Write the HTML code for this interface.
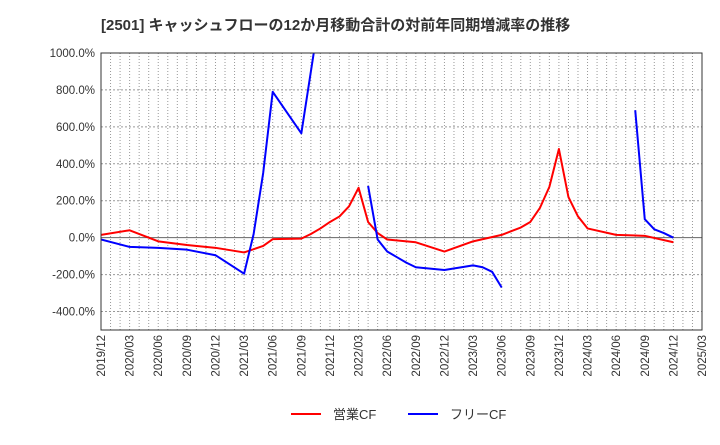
<!DOCTYPE html>
<html><head><meta charset="utf-8"><style>
body{margin:0;background:#fff;}
svg text{font-family:"Liberation Sans","Noto Sans CJK JP",sans-serif;}
</style></head><body>
<svg id="c" width="720" height="440" xmlns="http://www.w3.org/2000/svg">
<text x="101" y="30" font-size="15" font-weight="bold" fill="#333">[2501]  キャッシュフローの12か月移動合計の対前年同期増減率の推移</text>
<g id="grid"></g><g id="series"></g><g id="axes"></g>
<g>
<line x1="291" y1="414" x2="321" y2="414" stroke="#f00" stroke-width="2"/>
<text x="333" y="419" font-size="13" fill="#333">営業CF</text>
<line x1="408" y1="414" x2="438" y2="414" stroke="#00f" stroke-width="2"/>
<text x="450" y="419" font-size="13" fill="#333">フリーCF</text>
</g>
</svg>
<script>
const xTickLabels=["2019/12","2020/03","2020/06","2020/09","2020/12","2021/03","2021/06","2021/09","2021/12","2022/03","2022/06","2022/09","2022/12","2023/03","2023/06","2023/09","2023/12","2024/03","2024/06","2024/09","2024/12","2025/03"];
const yTicks=[-400,-200,0,200,400,600,800,1000];
// month index from 2019/12
const opMonths=[0,3,6,9,12,15,17,18,21,22,23,24,25,26,27,28,29,30,33,36,39,42,43,44,45,46,47,48,49,50,51,54,57,60];
const opValues=[15,40,-20,-40,-55,-80,-45,-8,-5,20,50,85,115,170,270,85,25,-10,-25,-75,-20,15,35,55,85,160,275,480,220,115,50,15,10,-25];
const fcfSegments=[
 {months:[0,3,6,9,12,15,16,17,18,21,22.3],values:[-10,-50,-55,-65,-95,-195,20,350,790,565,1000]},
 {months:[28,29,30,31,32,33,36,39,40,41,42],values:[280,-10,-75,-105,-135,-160,-175,-150,-160,-185,-270]},
 {months:[56,57,58,59,60],values:[690,100,45,25,0]}
];
const X0=101,X1=702,Y0=53,Y1=330,NM=63,YMIN=-500,YMAX=1000;
const xs=m=>X0+(X1-X0)*m/NM;
const ys=v=>Y1-(Y1-Y0)*(v-YMIN)/(YMAX-YMIN);
const NS="http://www.w3.org/2000/svg";
function mk(tag,attrs,parent){const e=document.createElementNS(NS,tag);for(const k in attrs)e.setAttribute(k,attrs[k]);parent.appendChild(e);return e;}
const grid=document.getElementById('grid'),axes=document.getElementById('axes'),ser=document.getElementById('series');
for(let m=1;m<NM;m++){
 const l=mk('line',{x1:xs(m),x2:xs(m),y1:Y0,y2:Y1,stroke:'#999','stroke-width':1,'stroke-dasharray':'1,2'},grid);
 
 
}
yTicks.forEach(v=>{
 const y=ys(v);
 const l=mk('line',{x1:X0,x2:X1,y1:y,y2:y,stroke:v===0?'#666':'#999','stroke-width':1,'stroke-dasharray':v===0?'none':'2,2'},grid);
 
 
 const t=mk('text',{x:X0-6,y:y+4,'font-size':11.5,'text-anchor':'end',fill:'#333'},axes);
 t.textContent=v.toFixed(1)+'%';
 
 
});
const box=mk('rect',{x:X0,y:Y0,width:X1-X0,height:Y1-Y0,fill:'none',stroke:'#333','stroke-width':1},axes);


xTickLabels.forEach((s,i)=>{
 const x=xs(i*3);
 const t=mk('text',{x:0,y:0,'font-size':11.5,'text-anchor':'end',fill:'#333',transform:`translate(${x+4},${Y1+5}) rotate(-90)`},axes);
 t.textContent=s;
 
 
});
const cp=mk('clipPath',{id:'cl'},ser);mk('rect',{x:X0,y:Y0,width:X1-X0,height:Y1-Y0},cp);
function line(ms,vs,col,name){
 const p=mk('polyline',{points:ms.map((m,i)=>xs(m)+','+ys(vs[i])).join(' '),fill:'none',stroke:col,'stroke-width':2,'stroke-linejoin':'round','clip-path':'url(#cl)'},ser);
 
 
}
line(opMonths,opValues,'#f00','operating-cf-line');
fcfSegments.forEach(s=>line(s.months,s.values,'#00f','free-cf-line'));
</script>
</body></html>
